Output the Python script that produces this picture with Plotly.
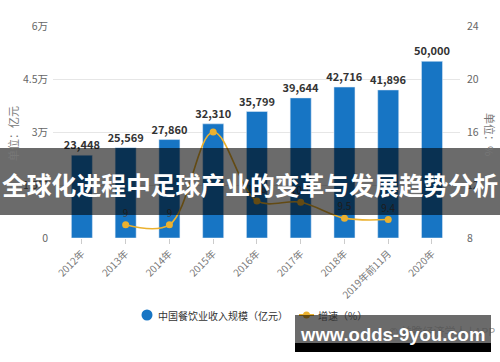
import plotly.graph_objects as go

categories = ["2012年", "2013年", "2014年", "2015年", "2016年", "2017年", "2018年", "2019年前11月", "2020年"]
revenue = [23448, 25569, 27860, 32310, 35799, 39644, 42716, 41896, 50000]
growth = [None, 9, 9, 16, 10.8, 10.7, 9.5, 9.4, None]
growth_labels = ["", "9", "9", "", "10.8", "10.7", "9.5", "9.4", ""]
left_ticks = [0, 15000, 30000, 45000, 60000]
left_ticktext = ["0", "1.5万", "3万", "4.5万", "6万"]
right_ticks = [8, 12, 16, 20, 24]
legend_names = ["中国餐饮业收入规模（亿元）", "增速（%）"]

FONT = "Noto Sans CJK SC, Noto Sans, sans-serif"
BLUE = "#1775C4"
GOLD = "#EBB12F"

fig = go.Figure()
fig.add_trace(go.Bar(
    x=categories, y=revenue, width=0.48, marker_color=BLUE, name=legend_names[0],
    text=revenue, texttemplate="%{y:,}", textposition="outside", constraintext="none",
    textfont=dict(size=11, color="#333", family=FONT, weight="bold"),
    cliponaxis=False, showlegend=False, yaxis="y", hoverinfo="skip",
))
fig.add_trace(go.Scatter(
    x=categories, y=growth, mode="lines+markers+text", name=legend_names[1],
    line=dict(color=GOLD, width=1.6, shape="spline", smoothing=1.0),
    marker=dict(color=GOLD, size=7),
    text=growth_labels, textposition="top center",
    textfont=dict(size=10, color="#444", family=FONT),
    yaxis="y2", cliponaxis=False, connectgaps=False, showlegend=False, hoverinfo="skip",
))

def px_x(p):
    return (p - 53) / 407.0

def px_y(p):
    return (238 - p) / 212.0

LEG_Y = 315
shapes = [
    dict(type="circle", xref="paper", yref="paper", x0=px_x(141.5), x1=px_x(152.5),
         y0=px_y(LEG_Y + 5.5), y1=px_y(LEG_Y - 5.5), fillcolor=BLUE, line_width=0),
    dict(type="line", xref="paper", yref="paper", x0=px_x(299), x1=px_x(314),
         y0=px_y(LEG_Y), y1=px_y(LEG_Y), line=dict(color=GOLD, width=2)),
    dict(type="circle", xref="paper", yref="paper", x0=px_x(303), x1=px_x(310),
         y0=px_y(LEG_Y + 3.5), y1=px_y(LEG_Y - 3.5), fillcolor=GOLD, line_width=0),
    dict(type="rect", xref="paper", yref="paper", x0=px_x(0), x1=px_x(500),
         y0=px_y(215), y1=px_y(148), fillcolor="rgba(0,0,0,0.58)", line_width=0, layer="above"),
    dict(type="rect", xref="paper", yref="paper", x0=px_x(295), x1=px_x(491),
         y0=px_y(343), y1=px_y(315), fillcolor="rgba(0,0,0,0.58)", line_width=0, layer="above"),
    dict(type="rect", xref="paper", yref="paper", x0=px_x(295), x1=px_x(491),
         y0=px_y(352), y1=px_y(343), fillcolor="black", line_width=0, layer="above"),
]

def ann(text, x, y, size, color, xanchor="center", angle=0, family=FONT, weight="normal"):
    return dict(text=text, xref="paper", yref="paper", x=px_x(x), y=px_y(y),
                xanchor=xanchor, yanchor="middle", textangle=angle, showarrow=False,
                font=dict(size=size, color=color, family=family, weight=weight))

annotations = [
    ann(legend_names[0], 156, LEG_Y, 10, "#333", xanchor="left"),
    ann(legend_names[1], 316, LEG_Y, 10, "#333", xanchor="left"),
    ann("单位：亿元", 13, 134, 11, "#777", angle=-90),
    ann("单位：%", 490, 134, 11, "#777", angle=90),
    ann("© 前瞻经济学人 | APP", 497, 331, 11, "rgba(80,80,80,0.6)", xanchor="right"),
    ann("全球化进程中足球产业的变革与发展趋势分析", 250, 184, 24.8, "white", weight="bold"),
    ann("www.odds-9you.com", 392, 334, 18.5, "white",
        family="Liberation Sans, Arial, sans-serif", weight="bold"),
]

fig.update_layout(
    width=500, height=362,
    margin=dict(l=53, r=40, t=26, b=124, autoexpand=False),
    paper_bgcolor="white", plot_bgcolor="white",
    font=dict(family=FONT, color="#555"),
    showlegend=False, hovermode=False,
    xaxis=dict(range=[-0.66, 8.64], tickangle=-45, tickfont=dict(size=10, color="#777"),
               showgrid=False, showline=False, zeroline=False,
               ticks="outside", ticklen=5, tickcolor="#ccc"),
    yaxis=dict(range=[0, 60000], tickvals=left_ticks, ticktext=left_ticktext,
               gridcolor="#e6e6e6", gridwidth=1, zeroline=False, showline=False,
               tickfont=dict(size=10.5, color="#666"), ticklabelstandoff=4),
    yaxis2=dict(range=[8, 24], tickvals=right_ticks, overlaying="y", side="right",
                showgrid=False, zeroline=False, showline=False,
                tickfont=dict(size=10.5, color="#666"), ticklabelstandoff=6),
    shapes=shapes, annotations=annotations,
)

fig.write_html("out.html", config={"displayModeBar": False},
               post_script="document.body.style.margin='0';document.body.style.overflow='hidden';")
